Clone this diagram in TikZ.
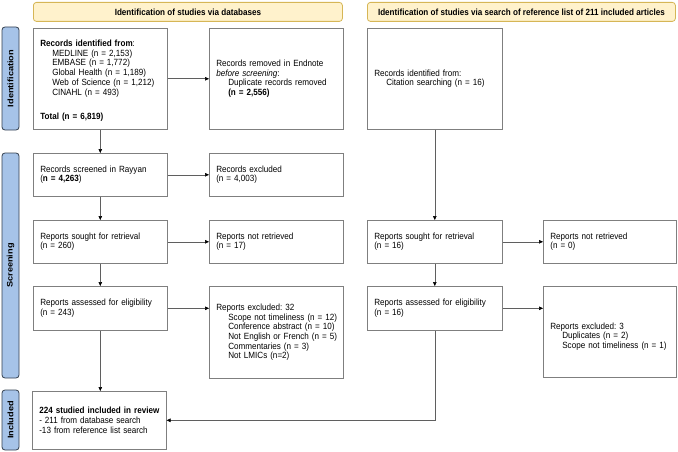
\documentclass[tikz,border=0pt]{standalone}
\usepackage{fontspec}
\setmainfont{Liberation Sans}[FakeStretch=0.9]
\newfontfamily\sidefont{Liberation Sans}[FakeStretch=1.15]
\usetikzlibrary{arrows.meta}
\definecolor{boxgray}{HTML}{7F7F7F}
\definecolor{linegray}{HTML}{5F5F5F}
\definecolor{hdrfill}{HTML}{FFF2CC}
\definecolor{hdrdraw}{HTML}{D6B656}
\definecolor{sidefill}{HTML}{A6C3E8}
\definecolor{sidedraw}{HTML}{34404F}
\newcommand{\ind}{\hspace*{12pt}}
\AtBeginDocument{\frenchspacing}
\begin{document}
\begin{tikzpicture}[x=1pt,y=-1pt,
  box/.style={draw=boxgray, line width=0.6pt, anchor=north west, align=left,
    inner xsep=7pt, inner ysep=0pt, font=\frenchspacing\fontsize{9}{9.7}\selectfont},
  hdr/.style={draw=hdrdraw, fill=hdrfill, line width=0.8pt, rounded corners=3pt,
    anchor=north west, minimum height=19pt, inner sep=0pt,
    font=\bfseries\fontsize{9}{10}\selectfont},
  side/.style={draw=sidedraw, fill=sidefill, line width=0.8pt, rounded corners=3pt,
    rotate=90, minimum height=17pt, inner sep=0pt,
    font=\sidefont\bfseries\fontsize{8}{10}\selectfont},
  arr/.style={draw=linegray, line width=0.6pt, -{Triangle[length=4pt,width=3.6pt,color=black]}}]
\useasboundingbox (0,0) rectangle (678,452);

% headers
\node[hdr, minimum width=309pt] (h1) at (33,2) {Identification of studies via databases};
\node[hdr, minimum width=308pt] (h2) at (367,2) {Identification of studies via search of reference list of 211 included articles};

% side bars
\node[side, minimum width=103pt] (s1) at (10.5,78.5) {Identification};
\node[side, minimum width=225pt] (s2) at (10.5,265.5) {Screening};
\node[side, minimum width=60pt] (s3) at (10.5,420) {Included};

% left column
\node[box, minimum width=134pt, minimum height=101pt, text width=120pt] (id1) at (33,28)
 {\rule{0pt}{10.5pt}\textbf{Records identified from}:\\
  \ind\mbox{MEDLINE (n = 2,153)}\\
  \ind\mbox{EMBASE (n = 1,772)}\\
  \ind\mbox{Global Health (n = 1,189)}\\
  \ind\mbox{Web of Science (n = 1,212)}\\
  \ind\mbox{CINAHL (n = 493)}\\[15pt]
  \textbf{Total (n = 6,819)}};
\node[box, minimum width=134pt, minimum height=101pt, text width=120pt] (rem) at (209,28)
 {Records removed in Endnote\\
  \textit{before screening}:\\
  \ind\mbox{Duplicate records removed}\\
  \ind\textbf{(n = 2,556)}};
\node[box, minimum width=134pt, minimum height=43pt, text width=120pt] (scr) at (33,153)
 {Records screened in Rayyan\\ (\textbf{n = 4,263})};
\node[box, minimum width=134pt, minimum height=43pt, text width=120pt] (exc) at (209,153)
 {Records excluded\\ (n = 4,003)};
\node[box, minimum width=134pt, minimum height=43pt, text width=120pt] (sou) at (33,220)
 {Reports sought for retrieval\\ (n = 260)};
\node[box, minimum width=134pt, minimum height=43pt, text width=120pt] (nrt) at (209,220)
 {Reports not retrieved\\ (n = 17)};
\node[box, minimum width=134pt, minimum height=44pt, text width=120pt] (ass) at (33,286)
 {\mbox{Reports assessed for eligibility}\\ (n = 243)};
\node[box, minimum width=134pt, minimum height=92pt, text width=120pt] (exr) at (209,286)
 {Reports excluded: 32\\
  \ind\mbox{Scope not timeliness (n = 12)}\\
  \ind\mbox{Conference abstract (n = 10)}\\
  \ind\mbox{Not English or French (n = 5)}\\
  \ind\mbox{Commentaries (n = 3)}\\
  \ind\mbox{Not LMICs (n=2)}};
\node[box, minimum width=134pt, minimum height=58pt, text width=120pt] (inc) at (32,391)
 {\mbox{\textbf{224 studied included in review}}\\
  \mbox{- 211 from database search}\\
  \mbox{-13 from reference list search}};

% right column
\node[box, minimum width=135pt, minimum height=101pt, text width=121pt] (cit) at (367,28)
 {Records identified from:\\
  \ind\mbox{Citation searching (n = 16)}};
\node[box, minimum width=135pt, minimum height=43pt, text width=121pt] (sou2) at (367,220)
 {Reports sought for retrieval\\ (n = 16)};
\node[box, minimum width=133pt, minimum height=43pt, text width=119pt] (nrt2) at (543,220)
 {Reports not retrieved\\ (n = 0)};
\node[box, minimum width=135pt, minimum height=44pt, text width=121pt] (ass2) at (367,286)
 {\mbox{Reports assessed for eligibility}\\ (n = 16)};
\node[box, minimum width=133pt, minimum height=91pt, text width=119pt] (exr2) at (543,286)
 {\mbox{}\\[6pt]
  Reports excluded: 3\\
  \ind\mbox{Duplicates (n = 2)}\\
  \ind\mbox{Scope not timeliness (n = 1)}};

% connectors
\draw[arr] (id1.east) -- (rem.west);
\draw[arr] (id1.south) -- (scr.north);
\draw[arr] (scr.east) -- (exc.west);
\draw[arr] (scr.south) -- (sou.north);
\draw[arr] (sou.east) -- (nrt.west);
\draw[arr] (sou.south) -- (ass.north);
\draw[arr] (ass.east) -- (ass.east -| exr.west);
\draw[arr] (ass.south) -- (ass.south |- inc.north);
\draw[arr] (cit.south) -- (cit.south |- sou2.north);
\draw[arr] (sou2.east) -- (nrt2.west);
\draw[arr] (sou2.south) -- (ass2.north);
\draw[arr] (ass2.east) -- (ass2.east -| exr2.west);
\draw[arr] (ass2.south) -- (ass2.south |- inc.east) -- (inc.east);
\end{tikzpicture}
\end{document}
